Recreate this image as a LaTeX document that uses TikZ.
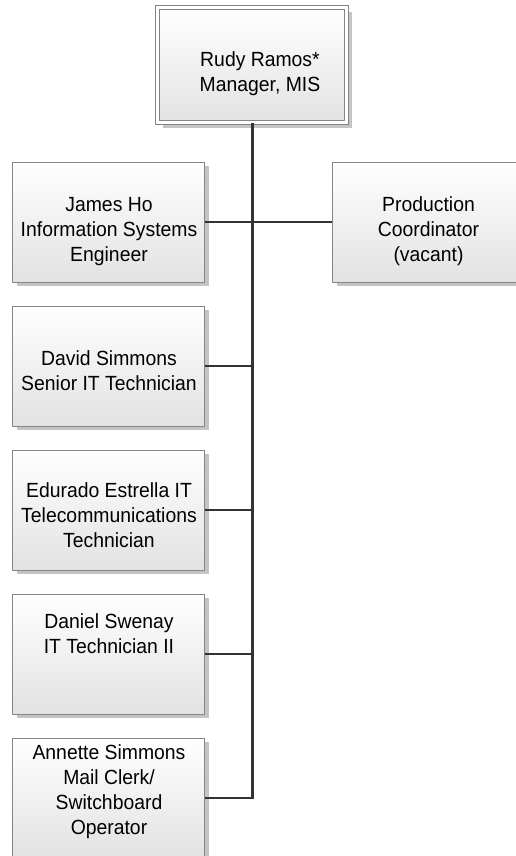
\documentclass[tikz,border=0pt]{standalone}
\usepackage{fontspec}
\setmainfont{Liberation Sans}[FakeStretch=0.945]
\usetikzlibrary{shadows}
\definecolor{boxline}{HTML}{858585}
\definecolor{boxbot}{HTML}{E2E2E2}
\definecolor{shadowc}{HTML}{C4C4C4}
\definecolor{connc}{HTML}{333333}
\begin{document}
\begin{tikzpicture}[x=1pt,y=-1pt,
  card/.style={draw=boxline, line width=1pt, top color=white, bottom color=boxbot,
    minimum width=192pt, minimum height=120pt, inner sep=0pt,
    drop shadow={shadow xshift=4.5pt, shadow yshift=-4pt, fill=shadowc, opacity=1}},
  topcard/.style={draw=boxline, line width=1pt, double=white, double distance=3pt,
    top color=white, bottom color=boxbot,
    minimum width=189pt, minimum height=115.5pt, inner sep=0pt,
    drop shadow={shadow xshift=5pt, shadow yshift=-5pt, fill=shadowc, opacity=1}},
  lbl/.style={align=center, inner sep=0pt, font=\fontsize{20.5}{25}\selectfont, text=black},
  vconn/.style={draw=connc, line width=3pt},
  hconn/.style={draw=connc, line width=2.5pt}]
\useasboundingbox (0,0) rectangle (515,856);
\fill[white] (0,0) rectangle (515,856);

% boxes
\node[topcard] (top) at (252,65.25) {};
\node[card] (james) at (108,222) {};
\node[card] (prod) at (428,222) {};
\node[card] (david) at (108,366) {};
\node[card] (edu) at (108,510) {};
\node[card] (dan) at (108,654) {};
\node[card] (ann) at (108,798) {};

% connectors
\draw[vconn] (top.south) -- ([yshift=0pt]top.south |- ann.east);
\draw[hconn] ([xshift=1.5pt]top.south |- ann.east) -- (ann.east);
\draw[hconn] (james.east) -- (prod.west);
\draw[hconn] (david.east) -- (david.east -| top.south);
\draw[hconn] (edu.east) -- (edu.east -| top.south);
\draw[hconn] (dan.east) -- (dan.east -| top.south);

% labels
\node[lbl] (topT) at (260,74) {Rudy Ramos*\\Manager, MIS};
\node[lbl] (jamesT) at (109,231.5) {James Ho\\Information Systems\\Engineer};
\node[lbl] (prodT) at (428.5,231.5) {Production\\Coordinator\\(vacant)};
\node[lbl] (davidT) at (109,370.5) {David Simmons\\Senior IT Technician};
\node[lbl] (eduT) at (109,515) {Edurado Estrella IT\\Telecommunications\\Technician};
\node[lbl] (danT) at (109,633.5) {Daniel Swenay\\IT Technician II};
\node[lbl] (annT) at (109,791.5) {Annette Simmons\\Mail Clerk/\\Switchboard\\Operator};
\end{tikzpicture}
\end{document}
